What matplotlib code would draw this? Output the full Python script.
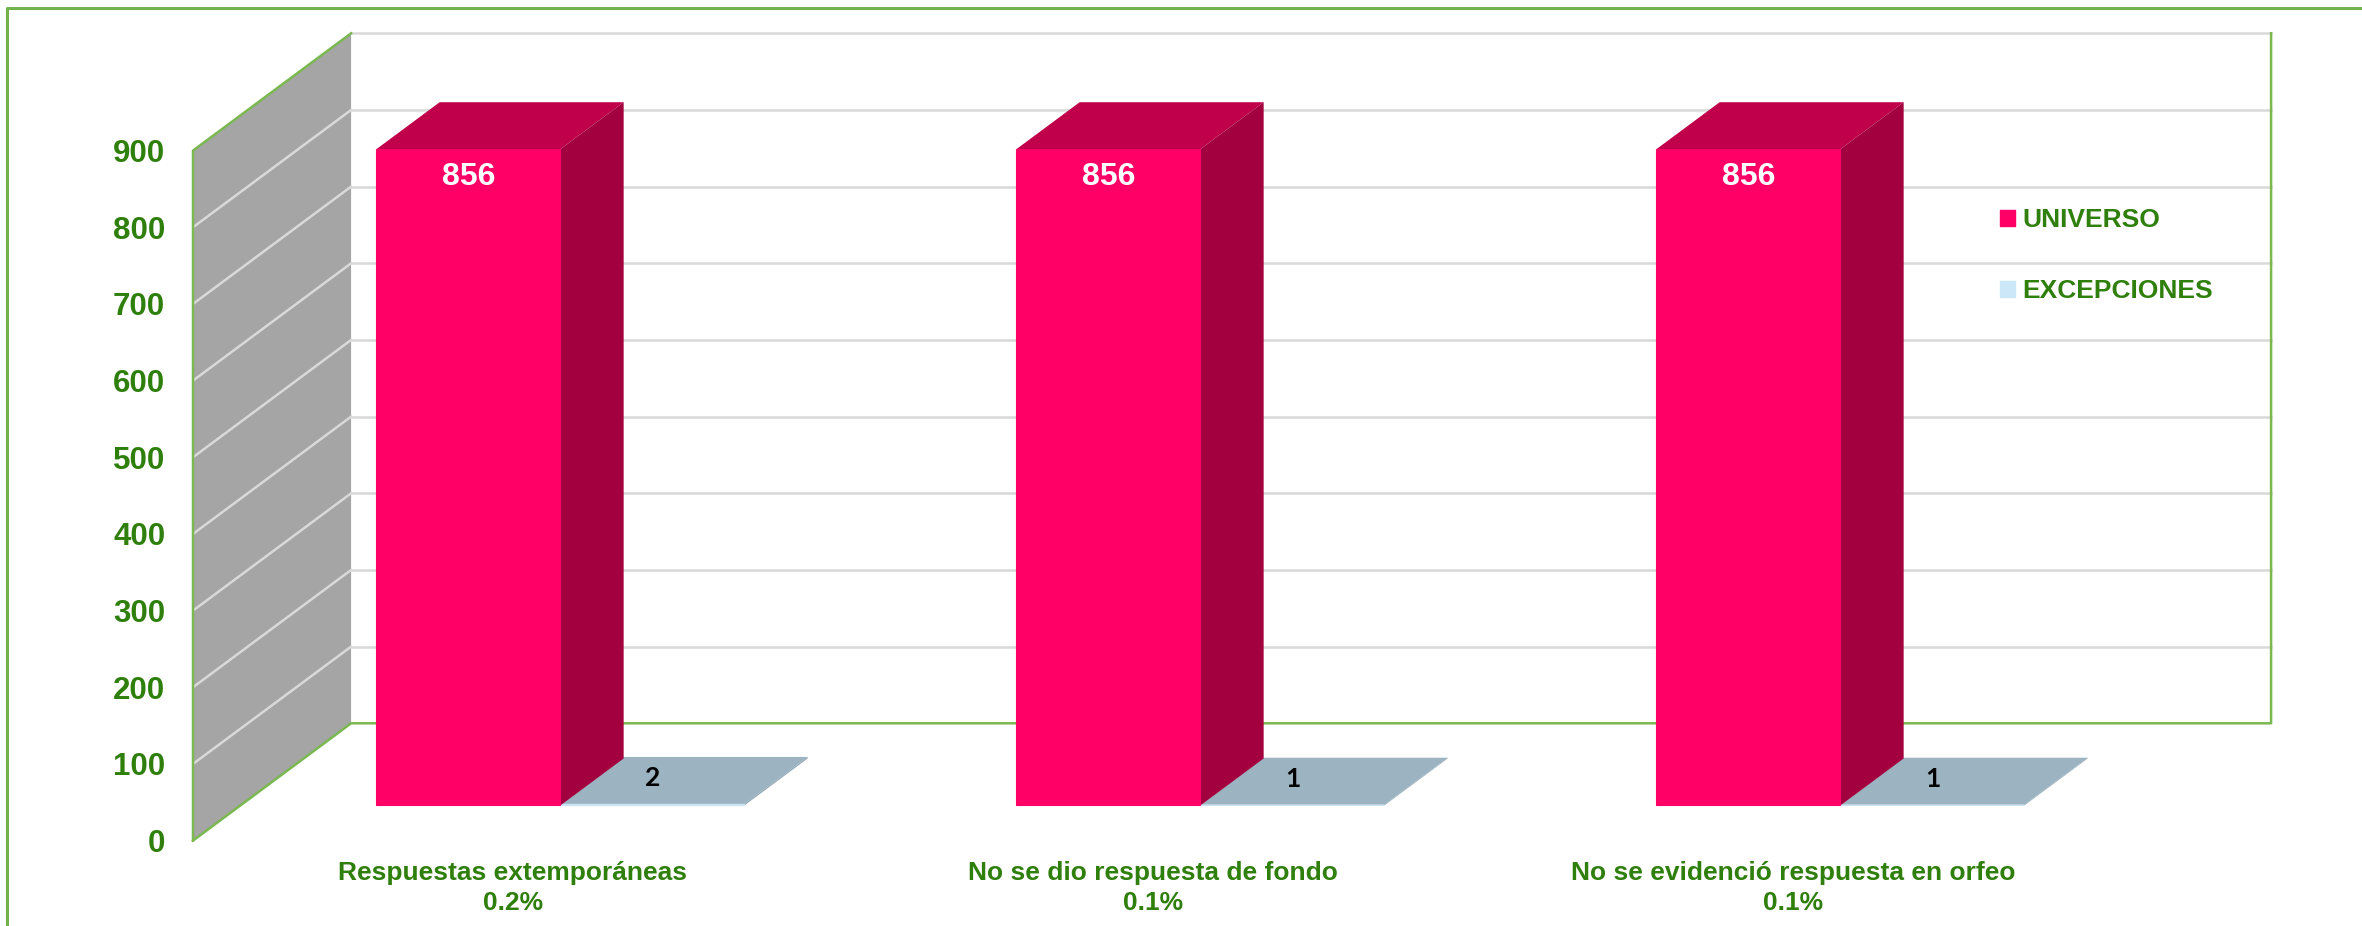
import matplotlib
matplotlib.use('Agg')
import matplotlib.pyplot as plt
from matplotlib.patches import Polygon, Patch
from matplotlib.lines import Line2D

# Data
categorias = ['Respuestas extemporáneas\n0.2%',
              'No se dio respuesta de fondo\n0.1%',
              'No se evidenció respuesta en orfeo\n0.1%']
universo = [856, 856, 856]
excepciones = [2, 1, 1]
yticks = [0, 100, 200, 300, 400, 500, 600, 700, 800, 900]

# Colours
verde_txt = '#2E7F0C'
verde_lin = '#7AB850'
rosa = ['#FF0066', '#A3003F', '#C0004A']    # front, side, top
gris_azul = ['#C9E4F4', '#8FA6B5', '#9CB3C2']
pared = '#A5A5A5'
rejilla = '#D9D9D9'

plt.rcParams['font.family'] = ['Liberation Sans', 'DejaVu Sans']
plt.rcParams['font.weight'] = 'bold'

W, H = 2362, 926
fig = plt.figure(figsize=(W / 100, H / 100), dpi=100)

# 3D look: depth offset in data units
DX = 0.247   # x units
DY = 153.0   # value units
ANCHO = 0.2875
ymax = 900

ax = fig.add_axes([193 / W, 85.4 / H, (3 + DX) * 640 / W, (ymax + DY) * 0.76667 / H])
ax.set_xlim(-0.5, 2.5 + DX)
ax.set_ylim(0, ymax + DY)
ax.patch.set_visible(False)
for s in ax.spines.values():
    s.set_visible(False)

x0 = -0.5
x1 = 2.5
# left wall
ax.add_patch(Polygon([(x0, 0), (x0, ymax), (x0 + DX, ymax + DY), (x0 + DX, DY)],
                     closed=True, facecolor=pared, edgecolor='none', zorder=1))
for v in yticks[1:-1]:
    ax.plot([x0, x0 + DX], [v, v + DY], color=rejilla, lw=1.8, zorder=2)
# back wall gridlines
for v in yticks[1:]:
    ax.plot([x0 + DX, x1 + DX], [v + DY, v + DY], color=rejilla, lw=1.8, zorder=2,
            clip_on=False)
# green edges
ax.plot([x0, x0, x0 + DX], [0, ymax, ymax + DY], color=verde_lin, lw=1.8, zorder=3,
        clip_on=False)
ax.plot([x0, x0 + DX, x1 + DX, x1 + DX], [0, DY, DY, ymax + DY], color=verde_lin,
        lw=1.8, zorder=3, clip_on=False)


def caja(xa, val, colores, z):
    xb = xa + ANCHO
    y0 = 0.3 * DY
    y1 = y0 + val
    ox, oy = 0.4 * DX, 0.4 * DY
    frente = [(xa, y0), (xb, y0), (xb, y1), (xa, y1)]
    lado = [(xb, y0), (xb + ox, y0 + oy), (xb + ox, y1 + oy), (xb, y1)]
    tapa = [(xa, y1), (xb, y1), (xb + ox, y1 + oy), (xa + ox, y1 + oy)]
    ax.add_patch(Polygon(tapa, closed=True, facecolor=colores[2], edgecolor='none', zorder=z))
    ax.add_patch(Polygon(lado, closed=True, facecolor=colores[1], edgecolor='none', zorder=z))
    ax.add_patch(Polygon(frente, closed=True, facecolor=colores[0], edgecolor=colores[0],
                         lw=0.8, zorder=z + 0.1))


for i in range(len(categorias)):
    xr = i + 0.3 * DX
    caja(xr - ANCHO, universo[i], rosa, 5)
    caja(xr, excepciones[i], gris_azul, 4)
    ax.text(xr - ANCHO / 2, 0.3 * DY + universo[i] - 36, str(universo[i]),
            ha='center', va='center', color='white', fontsize=23, fontweight='bold',
            zorder=7)
    ax.text(i + 0.218, excepciones[i] + 0.52 * DY, str(excepciones[i]),
            ha='center', va='center', color='black', fontsize=19, fontweight='bold',
            family=['Lato', 'DejaVu Sans'], zorder=7)

ax.set_yticks(yticks)
ax.set_yticklabels([str(v) for v in yticks], fontsize=22.5, fontweight='bold', color=verde_txt)
ax.set_xticks(range(len(categorias)))
ax.set_xticklabels(categorias, fontsize=19, fontweight='bold', color=verde_txt,
                   linespacing=1.3)
ax.tick_params(axis='y', length=0, pad=20)
ax.tick_params(axis='x', length=0, pad=15)

# legend
leg = ax.legend(handles=[Patch(color='#FF0066', label='UNIVERSO'),
                         Patch(color='#CCE8F8', label='EXCEPCIONES')],
                loc='upper left', bbox_to_anchor=(2000 / W, 1 - 208 / H),
                bbox_transform=fig.transFigure, frameon=False, fontsize=19,
                handlelength=0.55, handleheight=0.55, handletextpad=0.3,
                labelspacing=1.8, borderpad=0, borderaxespad=0)
for t in leg.get_texts():
    t.set_color(verde_txt)
    t.set_fontweight('bold')

# outer frame (left and top edges visible)
fig.add_artist(Line2D([7 / W, 7 / W, 1], [0, 1 - 8 / H, 1 - 8 / H],
                      color='#72B24C', lw=2.2, transform=fig.transFigure))

fig.savefig('out.png', dpi=100)
